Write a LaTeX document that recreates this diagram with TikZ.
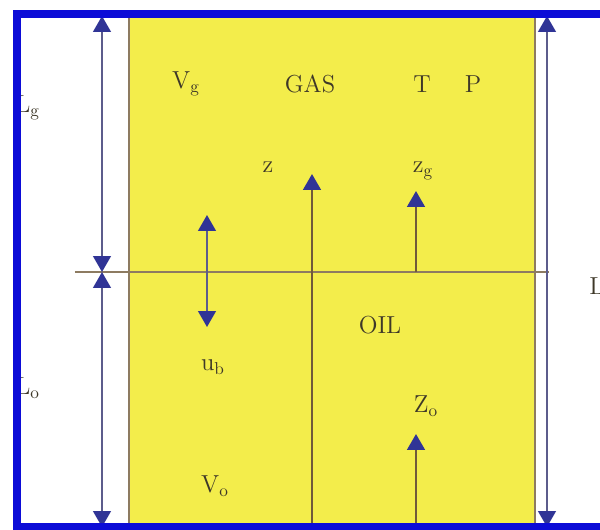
\documentclass[tikz,border=0pt]{standalone}
\usetikzlibrary{arrows.meta}
\definecolor{FrameBlue}{RGB}{12,12,215}
\definecolor{OilYellow}{RGB}{243,237,75}
\definecolor{TipBlue}{RGB}{48,52,150}
\definecolor{ShaftBrown}{RGB}{112,90,58}
\definecolor{DimGray}{RGB}{92,92,140}
\definecolor{LabelDark}{RGB}{62,56,40}
\begin{document}
\begin{tikzpicture}[x=0.02cm, y=-0.02cm,
    lbl/.style={text=LabelDark, font=\fontsize{14}{16}\selectfont, inner sep=0pt},
    arr/.style={-{Triangle[width=10pt, length=9pt, color=TipBlue]}, ShaftBrown, line width=1.4pt},
    dim/.style={{Triangle[width=10pt, length=9pt, color=TipBlue]}-{Triangle[width=10pt, length=9pt, color=TipBlue]}, DimGray, line width=1.2pt}
]
\useasboundingbox (0,0) rectangle (600,529);
\clip (0,0) rectangle (600,529);
\fill[white] (0,0) rectangle (600,529);
% vessel
\filldraw[fill=OilYellow, draw=ShaftBrown!80, line width=1.2pt] (129,16) rectangle (535,527);
% gas-oil interface
\coordinate (ifl) at (75,272);
\coordinate (ifr) at (549,272);
\draw[ShaftBrown!80, line width=1.2pt] (ifl) -- (ifr);
% dimension lines
\coordinate (lgtop) at (102,16);
\coordinate (lgbot) at (102,272);
\coordinate (lobot) at (102,527);
\coordinate (ltop) at (547,16);
\coordinate (lbot) at (547,527);
\draw[dim] (lgtop) -- (lgbot);
\draw[dim] (lgbot) -- (lobot);
\draw[dim] (ltop) -- (lbot);
\node[lbl, anchor=west] (Lg) at (15,108) {L\textsubscript{g}};
\node[lbl, anchor=west] (Lo) at (15,388) {L\textsubscript{o}};
\node[lbl, anchor=west] (L) at (589,286) {L};
% labels
\node[lbl] (Vg) at (186,84) {V\textsubscript{g}};
\node[lbl] (gas) at (310,84) {GAS};
\node[lbl] (T) at (422,84) {T};
\node[lbl] (P) at (473,84) {P};
\node[lbl] (oil) at (380,325) {OIL};
\node[lbl] (z) at (268,167) {z};
\node[lbl] (zg) at (423,171) {z\textsubscript{g}};
\node[lbl] (ub) at (213,367) {u\textsubscript{b}};
\node[lbl] (Zo) at (426,406) {Z\textsubscript{o}};
\node[lbl] (Vo) at (215,486) {V\textsubscript{o}};
% heights
\coordinate (zbot) at (312,527);
\coordinate (ztop) at (312,174);
\coordinate (zgbot) at (416,272);
\coordinate (zgtop) at (416,191);
\coordinate (zobot) at (416,527);
\coordinate (zotop) at (416,434);
\coordinate (ubtop) at (207,215);
\coordinate (ubbot) at (207,327);
\draw[arr] (zbot) -- (ztop);
\draw[arr] (zgbot) -- (zgtop);
\draw[arr] (zobot) -- (zotop);
\draw[dim] (ubtop) -- (ubbot);
% frame
\draw[FrameBlue, line width=4.5pt] (17,14) rectangle (660,527);
\end{tikzpicture}
\end{document}
